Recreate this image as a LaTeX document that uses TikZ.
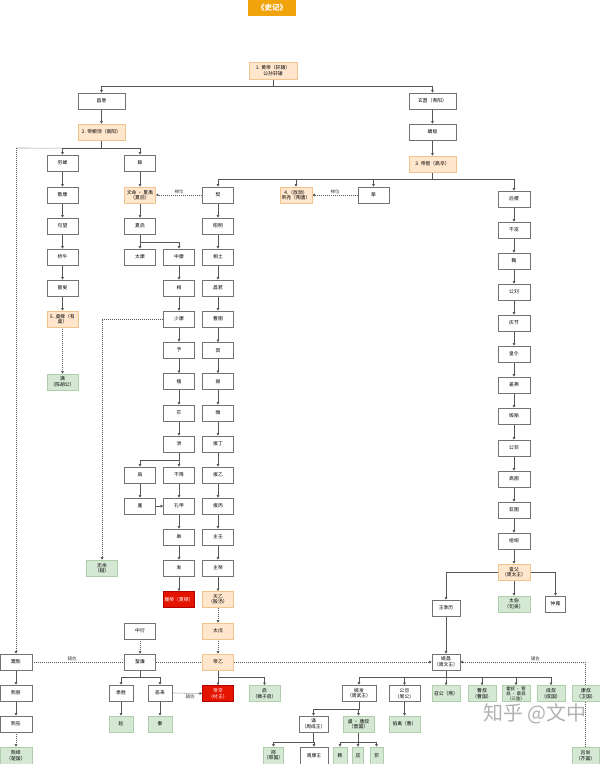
\documentclass[tikz,border=0pt]{standalone}
\usepackage{fontspec}
\setmainfont{Noto Sans CJK SC}
\usetikzlibrary{arrows.meta,backgrounds}
\definecolor{orF}{HTML}{FFE6CC}
\definecolor{orD}{HTML}{F2C48C}
\definecolor{grF}{HTML}{D5E8D4}
\definecolor{grD}{HTML}{AFCFAA}
\definecolor{rdF}{HTML}{E51400}
\definecolor{rdD}{HTML}{B20000}
\definecolor{ttl}{HTML}{F0A30A}
\definecolor{ln}{HTML}{555555}
\begin{document}
\begin{tikzpicture}[x=1pt,y=-1pt,
  base/.style={rectangle,minimum width=31pt,minimum height=16pt,inner sep=0.5pt,align=center,
    font=\fontsize{4.8}{5.6}\selectfont,line width=0.6pt},
  wb/.style={base,draw=black!55,fill=white},
  ob/.style={base,draw=orD,fill=orF},
  gb/.style={base,draw=grD,fill=grF},
  rb/.style={base,draw=rdD,fill=rdF,text=white},
  arr/.style={draw=ln,line width=0.6pt,-{Triangle[length=2.6pt,width=2.6pt]}},
  plain/.style={draw=ln,line width=0.6pt},
  darr/.style={draw=ln,line width=0.6pt,dash pattern=on 1pt off 1pt,-{Triangle[length=2.6pt,width=2.6pt]}},
  dl/.style={draw=ln,line width=0.6pt,dash pattern=on 1pt off 1pt},
  lab/.style={font=\fontsize{4.5}{5}\selectfont,text=black!75,inner sep=1pt}]
\useasboundingbox (0,0) rectangle (600,764);

% title
\node[base,fill=ttl,text=white,minimum width=48pt,font=\fontsize{7.5}{8}\selectfont\bfseries] (title) at (272,8) {《史记》};

% top
\node[ob,minimum width=48pt,minimum height=17pt] (hd) at (273,70.5) {1. 黄帝（轩辕）\\公孙轩辕};
\node[wb,minimum width=47pt] (cy) at (101.5,101) {昌意};
\node[ob,minimum width=47pt] (zx) at (101.5,132) {2. 帝颛顼（高阳）};
\node[wb,minimum width=47pt] (xx) at (432.5,101) {玄嚣（青阳）};
\node[wb,minimum width=47pt] (jj) at (432.5,132) {蟜极};
\node[ob,minimum width=47pt] (dk) at (432.5,164) {3. 帝喾（高辛）};

% Shun line
\node[wb] (qc) at (62.5,163) {穷蝉};
\node[wb] (jk) at (62.5,195) {敬康};
\node[wb] (gw) at (62.5,226) {句望};
\node[wb] (qn) at (62.5,257) {桥牛};
\node[wb] (gs) at (62.5,288) {瞽叟};
\node[ob] (ys) at (62.5,319) {5. 虞舜（有\\虞）};
\node[gb] (hm) at (62.5,382) {满\\（陈胡公）};

% Xia line
\node[wb] (gun) at (140,163) {鲧};
\node[ob] (yu) at (140,195) {文命 · 夏禹\\（夏后）};
\node[wb] (qi) at (140,226) {夏启};
\node[wb] (tk) at (140,257) {太康};
\node[wb] (zk) at (179,257) {中康};
\node[wb] (xiang) at (179,288) {相};
\node[wb] (sk) at (179,319) {少康};
\node[wb] (yuu) at (179,350) {予};
\node[wb] (huai) at (179,381.5) {槐};
\node[wb] (mang) at (179,413) {芒};
\node[wb] (xie) at (179,444) {泄};
\node[wb] (jiong) at (140,475) {扃};
\node[wb] (bj) at (179,475) {不降};
\node[wb] (jin) at (140,506) {廑};
\node[wb] (kj) at (179,506) {孔甲};
\node[wb] (gao) at (179,537) {皋};
\node[wb] (fa) at (179,568) {发};
\node[rb] (jie) at (179,599.5) {履癸（夏桀）};
\node[gb] (wy) at (102,568) {无余\\（越）};

% Shang line
\node[wb] (xie0) at (218,195) {契};
\node[wb] (zm) at (218,226) {昭明};
\node[wb] (xt) at (218,257) {相土};
\node[wb] (cr) at (218,288) {昌若};
\node[wb] (cyu) at (218,319) {曹圉};
\node[wb] (ming) at (218,350.5) {冥};
\node[wb] (zhen) at (218,381.5) {振};
\node[wb] (wei) at (218,413) {微};
\node[wb] (bd) at (218,444) {报丁};
\node[wb] (by) at (218,475) {报乙};
\node[wb] (bb) at (218,506) {报丙};
\node[wb] (zr) at (218,537) {主壬};
\node[wb] (zgu) at (218,568) {主癸};
\node[ob] (ty) at (218,599.5) {天乙\\（殷汤）};
\node[ob] (tw) at (218,631) {太戊};
\node[ob] (dy) at (218,662) {帝乙};
\node[rb] (dx) at (218,693.5) {帝辛\\（纣王）};
\node[gb] (wzq) at (264.5,693.5) {启\\（微子启）};

\node[ob,minimum width=32pt] (yao) at (296,195) {4.（放勋）\\帝尧（陶唐）};
\node[wb] (zhi) at (373.5,195) {挚};

% Zhou line
\node[wb,minimum width=32pt] (hj) at (514,199) {后稷};
\node[wb,minimum width=32pt] (bz) at (514,230) {不窋};
\node[wb,minimum width=32pt] (ju) at (514,261) {鞠};
\node[wb,minimum width=32pt] (gl) at (514,292) {公刘};
\node[wb,minimum width=32pt] (qj) at (514,323) {庆节};
\node[wb,minimum width=32pt] (hp) at (514,354) {皇仆};
\node[wb,minimum width=32pt] (cf) at (514,385) {差弗};
\node[wb,minimum width=32pt] (hy) at (514,416) {毁隃};
\node[wb,minimum width=32pt] (gf) at (514,448) {公非};
\node[wb,minimum width=32pt] (gy) at (514,479) {高圉};
\node[wb,minimum width=32pt] (yy) at (514,510) {亚圉};
\node[wb,minimum width=32pt] (zgan) at (514,541) {组绀};
\node[ob,minimum width=32pt] (df) at (514,572) {亶父\\（周太王）};
\node[wb,minimum width=28pt] (jl) at (446,608) {王季历};
\node[gb,minimum width=32pt] (tb) at (514,604) {太伯\\（句吴）};
\node[wb,minimum width=20pt] (zyong) at (555.5,604) {仲雍};
\node[wb,minimum width=28pt] (jc) at (446,662) {姬昌\\（周文王）};
\node[wb,minimum width=34pt] (jf) at (359,693) {姬发\\（周武王）};
\node[wb] (gd) at (404.5,693.5) {公旦\\（周公）};
\node[gb,minimum width=28pt] (sg) at (446,693.5) {召公（燕）};
\node[gb,minimum width=28pt] (cs) at (482,693.5) {曹叔\\（曹国）};
\node[gb,minimum width=28pt,font=\fontsize{4.3}{5}\selectfont] (sj) at (516,693.5) {霍叔 · 管\\叔 · 蔡叔\\（三监）};
\node[gb,minimum width=28pt] (chs) at (551,693.5) {成叔\\（成国）};
\node[gb,minimum width=28pt] (ks) at (586,693.5) {康叔\\（卫国）};
\node[gb,minimum width=27pt,minimum height=17pt] (lu) at (585.5,755.5) {吕尚\\（齐国）};
\node[gb] (bq) at (404.5,724) {伯禽（鲁）};
\node[wb,minimum width=29pt] (song) at (313.5,724) {诵\\（周成王）};
\node[gb] (tsh) at (358.5,724) {虞 · 唐叔\\（晋国）};
\node[gb,minimum width=19pt,minimum height=17pt] (xing) at (273.5,755.5) {邢\\（邢国）};
\node[wb,minimum width=28pt,minimum height=17pt] (kw) at (314,755.5) {周康王};
\node[gb,minimum width=14pt,minimum height=17pt] (han) at (340,755.5) {韩};
\node[gb,minimum width=11pt,minimum height=17pt] (ying) at (358,755.5) {应};
\node[gb,minimum width=13pt,minimum height=17pt] (yu3) at (376.5,755.5) {邘};

% Chu / Qin / Zhao
\node[wb,minimum width=32pt] (yx) at (16,662) {鬻熊};
\node[wb,minimum width=32pt] (xl) at (16,693) {熊丽};
\node[wb,minimum width=32pt] (xk) at (16,724) {熊狂};
\node[gb,minimum width=32pt,minimum height=17pt] (xyi) at (16,755.5) {熊绎\\（楚国）};
\node[wb] (zyan) at (140,631) {中衍};
\node[wb] (fl) at (140,662) {蜚廉};
\node[wb,minimum width=24pt] (js) at (121,693) {季胜};
\node[wb,minimum width=24pt] (el) at (160,693) {恶来};
\node[gb,minimum width=24pt] (zhao) at (121,724) {赵};
\node[gb,minimum width=24pt] (qin) at (160,724) {秦};

\node[text=black!30,font=\fontsize{20}{20}\selectfont] (wm) at (535,714) {知乎 @文中};

\begin{scope}[on background layer]
\fill[white] (0,0) rectangle (600,764);
% top tree
\draw[arr] (hd.south) -- ++(0,7) -| (cy.north);
\draw[arr] (hd.south) -- ++(0,7) -| (xx.north);
\draw[arr] (cy) -- (zx);
\draw[arr] (xx) -- (jj);
\draw[arr] (jj) -- (dk);
\draw[dl] (zx.south) ++(0,8) -- (16,148);
\draw[darr] (16,148) -- (yx.north);
\draw[arr] (zx.south) -- ++(0,8) -| (qc.north);
\draw[arr] (zx.south) -- ++(0,8) -| (gun.north);
\foreach \a/\b in {qc/jk,jk/gw,gw/qn,qn/gs,gs/ys} \draw[arr] (\a) -- (\b);
\draw[darr] (ys) -- (hm);
\foreach \a/\b in {gun/yu,yu/qi,zk/xiang,xiang/sk,sk/yuu,yuu/huai,huai/mang,mang/xie,jiong/jin,bj/kj,kj/gao,gao/fa,fa/jie} \draw[arr] (\a) -- (\b);
\draw[arr] (jin) -- (kj);
\draw[arr] (qi.south) -- ++(0,8) -| (tk.north);
\draw[arr] (qi.south) -- ++(0,8) -| (zk.north);
\draw[arr] (xie.south) -- ++(0,8) -| (jiong.north);
\draw[arr] (xie.south) -- ++(0,8) -| (bj.north);
\draw[darr] (sk.west) -| (wy.north);
% Ku children
\draw[arr] (dk.south) -- ++(0,7) -| (xie0.north);
\draw[arr] (dk.south) -- ++(0,7) -| (yao.north);
\draw[arr] (dk.south) -- ++(0,7) -| (zhi.north);
\draw[arr] (dk.south) -- ++(0,7) -| (hj.north);
\draw[darr] (xie0.west) -- node[lab,above,pos=0.5] {禅位} (yu.east);
\draw[darr] (zhi.west) -- node[lab,above,pos=0.5] {禅位} (yao.east);
\foreach \a/\b in {xie0/zm,zm/xt,xt/cr,cr/cyu,cyu/ming,ming/zhen,zhen/wei,wei/bd,bd/by,by/bb,bb/zr,zr/zgu,zgu/ty,dy/dx} \draw[arr] (\a) -- (\b);
\draw[darr] (ty) -- (tw);
\draw[darr] (tw) -- (dy);
\draw[arr] (dy.south) -- ++(0,7) -| (wzq.north);
% Zhou
\foreach \a/\b in {hj/bz,bz/ju,ju/gl,gl/qj,qj/hp,hp/cf,cf/hy,hy/gf,gf/gy,gy/yy,yy/zgan,zgan/df,df/tb,jl/jc,gd/bq} \draw[arr] (\a) -- (\b);
\draw[arr] (df.west) -| (jl.north);
\draw[arr] (df.east) -| (zyong.north);
\foreach \c in {jf,gd,sg,cs,sj,chs} \draw[arr] (jc.south) -- ++(0,7) -| (\c.north);
\draw[arr] (jf.south) -- ++(0,8) -| (song.north);
\draw[arr] (jf.south) -- ++(0,8) -| (tsh.north);
\draw[arr] (song.south) -- ++(0,10) -| (xing.north);
\draw[arr] (song.south) -- ++(0,10) -| (kw.north);
\foreach \c in {han,ying,yu3} \draw[arr] (tsh.south) -- ++(0,10) -| (\c.north);
\draw[darr] (lu.north) |- node[lab,above,pos=0.7] {辅佐} (jc.east);
% Chu / Qin / Zhao
\draw[arr] (yx) -- (xl);
\draw[arr] (xl) -- (xk);
\draw[darr] (xk) -- (xyi);
\draw[darr] (yx.east) -- node[lab,above,pos=0.1] {辅佐} (jc.west);
\draw[darr] (zyan) -- (fl);
\draw[arr] (fl.south) -- ++(0,7) -| (js.north);
\draw[arr] (fl.south) -- ++(0,7) -| (el.north);
\draw[arr] (js) -- (zhao);
\draw[arr] (el) -- (qin);
\draw[darr] (el.east) -- node[lab,below,pos=0.6] {辅佐} (dx.west);
\end{scope}
\end{tikzpicture}
\end{document}
